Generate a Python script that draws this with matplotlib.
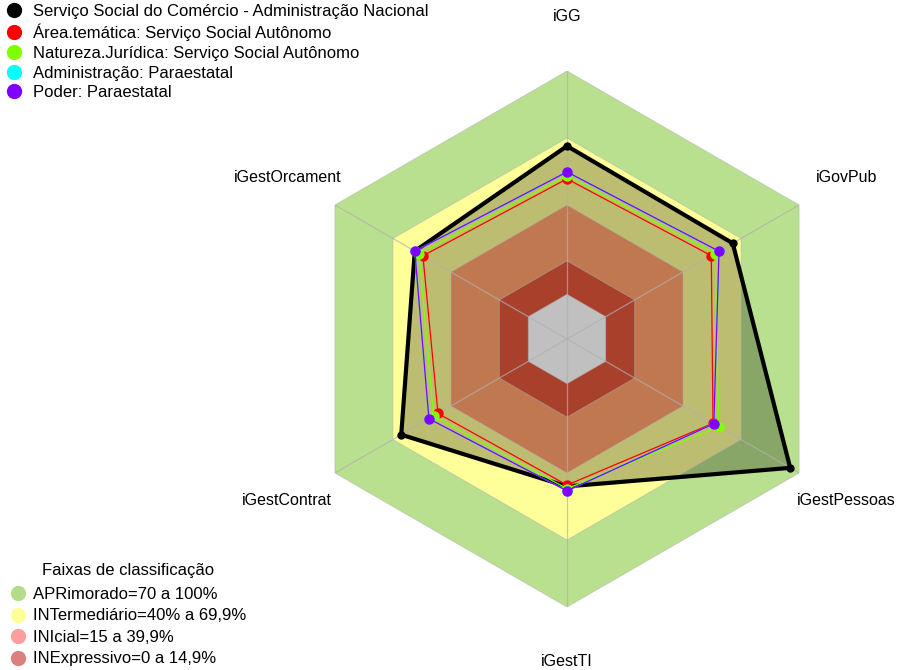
import numpy as np
import matplotlib
matplotlib.use("Agg")
import matplotlib.pyplot as plt
from matplotlib.lines import Line2D

plt.rcParams['font.family'] = ['Liberation Sans', 'DejaVu Sans']

categories = ["iGG", "iGovPub", "iGestPessoas", "iGestTI", "iGestContrat", "iGestOrcament"]

series_names = [
    "Serviço Social do Comércio - Administração Nacional",
    "Área.temática: Serviço Social Autônomo",
    "Natureza.Jurídica: Serviço Social Autônomo",
    "Administração: Paraestatal",
    "Poder: Paraestatal",
]
serie_sesc = [0.664, 0.657, 0.954, 0.46, 0.657, 0.587]
serie_area = [0.517, 0.546, 0.555, 0.454, 0.467, 0.545]
serie_natureza = [0.530, 0.565, 0.585, 0.47, 0.490, 0.565]
serie_admin = [0.548, 0.586, 0.559, 0.48, 0.514, 0.587]
serie_poder = [0.548, 0.586, 0.559, 0.48, 0.514, 0.587]
series_values = [serie_sesc, serie_area, serie_natureza, serie_admin, serie_poder]
series_colors = ["#000000", "#ff0000", "#80ff00", "#00ffff", "#8000ff"]

band_names = ["APRimorado=70 a 100%", "INTermediário=40% a 69,9%",
              "INIcial=15 a 39,9%", "INExpressivo=0 a 14,9%"]
band_upper = [1.0, 0.70, 0.40, 0.15]
band_fill = ["#b9e08e", "#ffff99", "#c07850", "#a8402c"]
band_legend_colors = ["#b5dc8a", "#ffff99", "#ff9e9e", "#d98080"]
rmin = -0.2

fig = plt.figure(figsize=(9, 6.7), dpi=100)
ax = fig.add_axes([299/900, 63/670, 536/900, 536/670], projection='polar')
ax.set_theta_offset(np.pi/2)
ax.set_theta_direction(-1)
ax.set_ylim(rmin, 1.0)
ax.grid(False)
ax.spines['polar'].set_visible(False)
ax.set_xticks([])
ax.set_yticks([])
ax.patch.set_alpha(0)

n = len(categories)
theta = np.arange(n) * 2*np.pi/n
theta_c = np.concatenate([theta, theta[:1]])

def closed(v):
    v = list(v)
    return np.array(v + v[:1])

# outer bands
ax.fill(theta_c, closed([band_upper[0]]*n), color=band_fill[0], lw=0, zorder=1)
ax.fill(theta_c, closed([band_upper[1]]*n), color=band_fill[1], lw=0, zorder=1.1)
# shaded area of main series
ax.fill(theta_c, closed(serie_sesc), color="black", alpha=0.26, lw=0, zorder=1.5)
# inner bands
ax.fill(theta_c, closed([band_upper[2]]*n), color=band_fill[2], lw=0, zorder=2)
ax.fill(theta_c, closed([band_upper[3]]*n), color=band_fill[3], lw=0, zorder=2.1)
ax.fill(theta_c, closed([0.0]*n), color="#c0c0c0", lw=0, zorder=2.2)

# grid
for lvl in [0.0, 0.15, 0.40, 0.70, 1.0]:
    ax.plot(theta_c, closed([lvl]*n), color="#b0b0b0", lw=0.7, alpha=0.5, zorder=2.5)
for t in theta:
    ax.plot([t, t], [rmin, 1.0], color="#b0b0b0", lw=0.9, alpha=0.7, zorder=2.5)

# series
widths = [3.0, 0.9, 0.9, 0.9, 0.9]
msizes = [6, 7.5, 7.5, 7.5, 7.5]
for vals, col, lw, ms, z in zip(series_values, series_colors, widths, msizes, range(len(series_values))):
    ax.plot(theta_c, closed(vals), color=col, lw=lw, zorder=3+z*0.1)
    ax.plot(theta, vals, 'o', color=col, ms=ms, zorder=3.05+z*0.1, markeredgewidth=0)

# labels
for t, lab in zip(theta, categories):
    ax.text(t, 1.246, lab, ha='center', va='center', fontsize=11.5)

# legends
h1 = [Line2D([], [], marker='o', ls='', color=c, ms=11, markeredgewidth=0) for c in series_colors]
leg1 = fig.legend(h1, series_names, loc='upper left', bbox_to_anchor=(0.0008, 0.994),
                  frameon=False, fontsize=12, handletextpad=0.34, labelspacing=0.28,
                  borderaxespad=0.0, handlelength=1.6, borderpad=0.0)
h2 = [Line2D([], [], marker='o', ls='', color=c, ms=11, markeredgewidth=0) for c in band_legend_colors]
leg2 = fig.legend(h2, band_names, loc='upper left', bbox_to_anchor=(6/900, 1 - 587/670),
                  frameon=False, fontsize=12, handletextpad=0.22, labelspacing=0.39,
                  borderaxespad=0.0, handlelength=1.4, borderpad=0.0)
fig.text(128/900, 1 - 570/670, "Faixas de classificação", ha='center', va='center', fontsize=12)

fig.savefig("out.png", dpi=100)
